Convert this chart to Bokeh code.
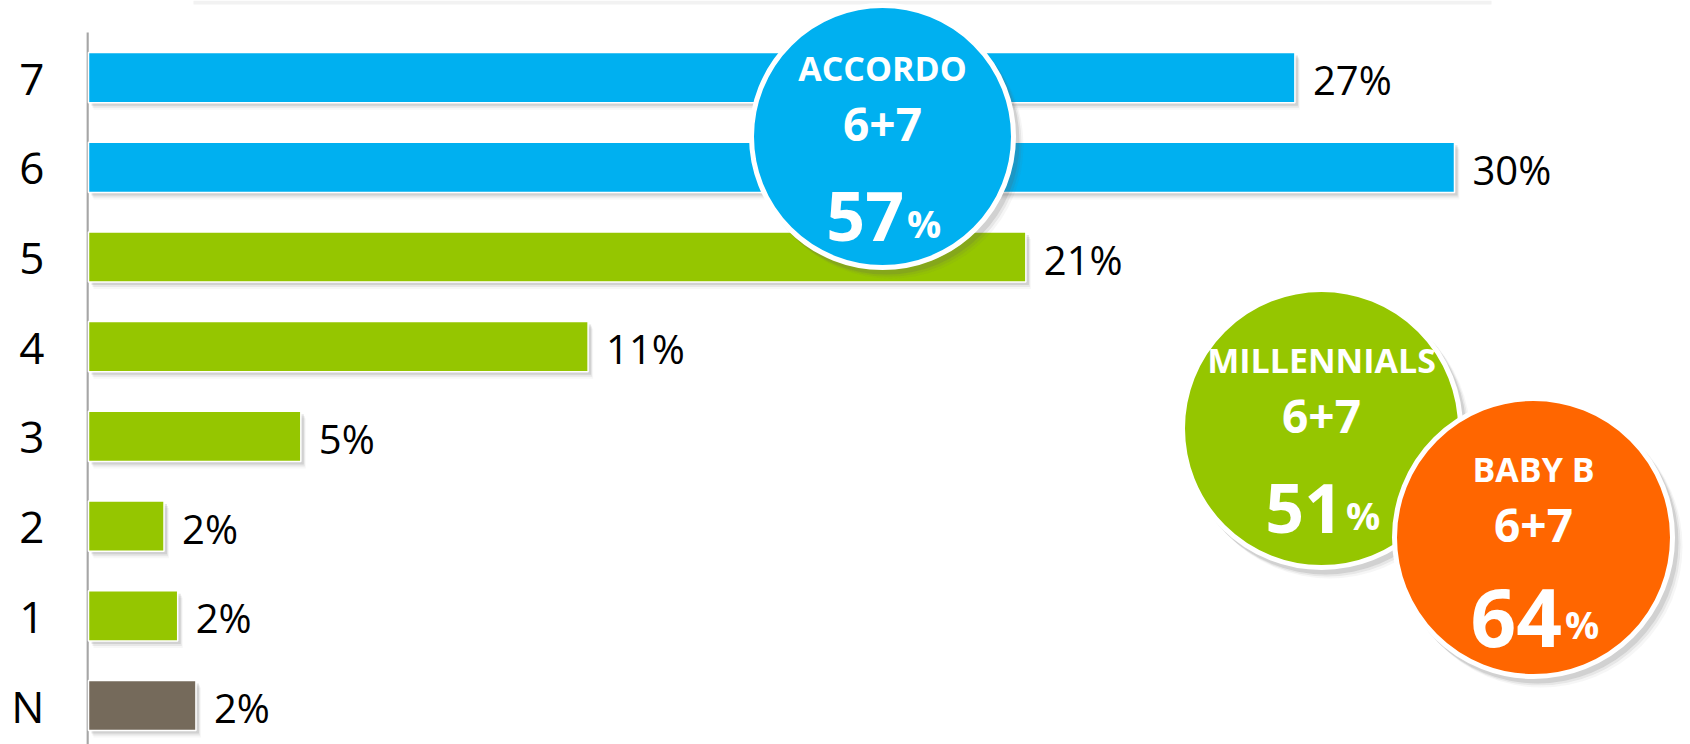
from bokeh.plotting import figure
from bokeh.models import Range1d, FixedTicker, ColumnDataSource
from bokeh.core.properties import value
from bokeh.embed import file_html
from bokeh.resources import INLINE

# ---------------- data ----------------
categories = ["N", "1", "2", "3", "4", "5", "6", "7"]          # bottom -> top
shares = [2.4, 2.0, 1.7, 4.7, 11.0, 20.6, 30.0, 26.5]          # % (bar lengths)
share_labels = ["2%", "2%", "2%", "5%", "11%", "21%", "30%", "27%"]
bar_colors = ["#756A5B", "#95C600", "#95C600", "#95C600", "#95C600",
              "#95C600", "#00B0F0", "#00B0F0"]

bubble_titles = ["ACCORDO", "MILLENNIALS", "BABY B"]
bubble_subtitles = ["6+7", "6+7", "6+7"]
bubble_values = ["57", "51", "64"]
bubble_colors = ["#00B0F0", "#95C600", "#FF6600"]

# ---------------- layout / style ----------------
W, H = 1690, 744
FL, FT = 86, 0                  # frame left / top in canvas px
FW, FH = W - FL, H - FT
PX_PER_PCT = 45.6
X_END = FW / PX_PER_PCT
ROW = 89.7                      # px per category row
N_CENTER = 705                  # page y of bottom category centre
Y_START = -(H - N_CENTER) / ROW
Y_END = N_CENTER / ROW
AXIS_TOP = 32
FONT = "Open Sans"

# bubble centre (page px), radius, font sizes
bubble_layout = [
    dict(cx=882, cy=136, r=131, num_fs=68, pct_fs=38),
    dict(cx=1321, cy=428, r=139, num_fs=68, pct_fs=38),
    dict(cx=1533, cy=537, r=139, num_fs=80, pct_fs=38),
]


def page_to_x(px):
    return (px - FL) * X_END / FW


def page_to_y(py):
    return Y_END - (py - FT) * (Y_END - Y_START) / FH


def px_dx(d):
    return d * X_END / FW


def px_dy(d):
    return d * (Y_END - Y_START) / FH


p = figure(width=W, height=H, output_backend="svg", toolbar_location=None,
           x_range=Range1d(0, X_END), y_range=Range1d(Y_START, Y_END),
           min_border_left=FL, min_border_top=FT, min_border_right=0,
           min_border_bottom=0, background_fill_color="white",
           border_fill_color="white")
p.outline_line_color = None
p.grid.visible = False
p.xaxis.visible = False

ypos = list(range(len(categories)))
p.yaxis.ticker = FixedTicker(ticks=ypos)
p.yaxis.major_label_overrides = {i: c for i, c in zip(ypos, categories)}
p.yaxis.major_tick_line_color = None
p.yaxis.minor_tick_line_color = None
p.yaxis.axis_line_color = None
p.yaxis.major_label_standoff = 36
p.yaxis.major_label_text_font = FONT
p.yaxis.major_label_text_font_size = "44px"
p.yaxis.major_label_text_color = "black"

# faint strip at the top of the slide
p.quad(left=[page_to_x(193)], right=[page_to_x(1491)], top=[Y_END],
       bottom=[page_to_y(4)], fill_color="#F2F2F2", line_color=None)

# vertical axis line
p.segment(x0=[px_dx(1)], y0=[Y_START], x1=[px_dx(1)], y1=[page_to_y(AXIS_TOP)],
          line_color="#A6A6A6", line_width=2.5)

src = ColumnDataSource(dict(y=ypos, v=shares, lab=share_labels, col=bar_colors))

# bar shadows
BAR_H = 0.56
for (ox, oy, a) in [(5, 7, 0.05), (4, 5, 0.10), (3, 3, 0.16)]:
    sh = ColumnDataSource(dict(y=[y - px_dy(oy) for y in ypos],
                               l=[px_dx(ox + 2)] * len(ypos),
                               r=[v + px_dx(ox) for v in shares]))
    p.hbar(y="y", left="l", right="r", height=BAR_H, source=sh,
           fill_color="#606060", fill_alpha=a, line_color=None)

p.hbar(y="y", left=px_dx(2), right="v", height=BAR_H, source=src,
       fill_color="col", line_color="white", line_width=1.5)

p.text(x="v", y="y", text="lab", source=src, x_offset=18, y_offset=2,
       text_font=value(FONT), text_font_size="40px", text_color="black",
       text_baseline="middle", text_align="left")

# bubbles
for title, sub, num, col, lay in zip(bubble_titles, bubble_subtitles,
                                      bubble_values, bubble_colors,
                                      bubble_layout):
    bx, by = page_to_x(lay["cx"]), page_to_y(lay["cy"])
    d = 2 * lay["r"]
    for (ox, oy, a) in [(8, 9, 0.06), (6, 7, 0.10), (4, 5, 0.16)]:
        p.scatter([bx + px_dx(ox)], [by - px_dy(oy)], size=d + 4,
                  marker="circle", fill_color="#606060", fill_alpha=a,
                  line_color=None)
    p.scatter([bx], [by], size=d, marker="circle", fill_color=col,
              line_color="white", line_width=5)
    p.text([bx], [by], text=[title], y_offset=-69, text_font=value(FONT),
           text_font_style="bold", text_font_size="34px", text_color="white",
           text_align="center", text_baseline="middle")
    p.text([bx], [by], text=[sub], y_offset=-12, text_font=value(FONT),
           text_font_style="bold", text_font_size="46px", text_color="white",
           text_align="center", text_baseline="middle")
    nw = 2 * 0.58 * lay["num_fs"]
    pw = 0.86 * lay["pct_fs"]
    gap = 3
    left = -(nw + gap + pw) / 2
    p.text([bx], [by], text=[num], x_offset=left + nw, y_offset=80,
           text_font=value(FONT), text_font_style="bold",
           text_font_size=f"{lay['num_fs']}px", text_color="white",
           text_align="right", text_baseline="middle")
    p.text([bx], [by], text=["%"], x_offset=left + nw + gap, y_offset=86,
           text_font=value(FONT), text_font_style="bold",
           text_font_size=f"{lay['pct_fs']}px", text_color="white",
           text_align="left", text_baseline="middle")

open("out.html", "w").write(file_html(p, INLINE))
